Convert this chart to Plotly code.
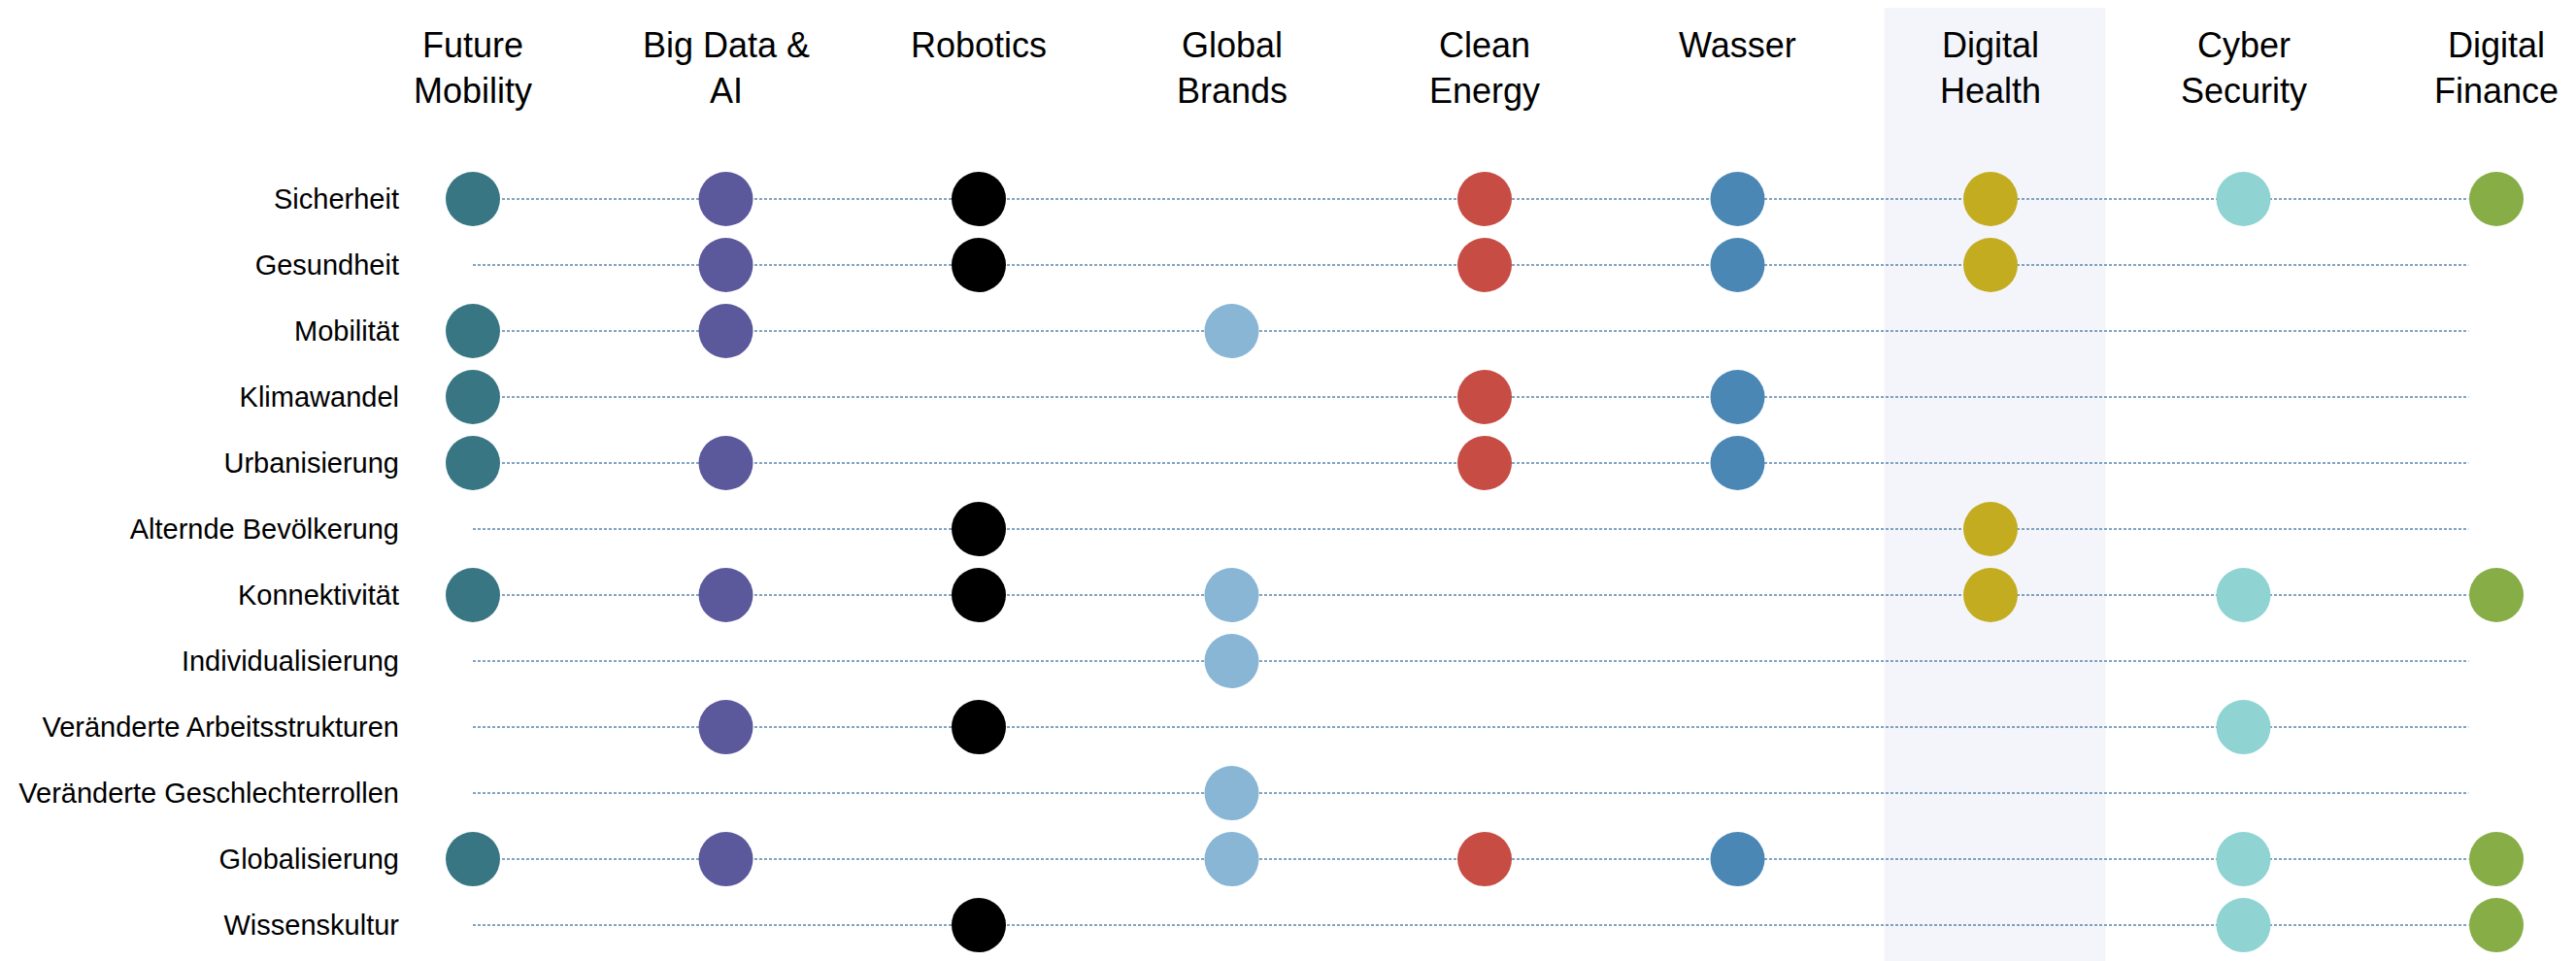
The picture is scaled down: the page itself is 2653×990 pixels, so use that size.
import plotly.graph_objects as go

themes = ["Future<br>Mobility", "Big Data &<br>AI", "Robotics", "Global<br>Brands", "Clean<br>Energy",
          "Wasser", "Digital<br>Health", "Cyber<br>Security", "Digital<br>Finance"]
theme_colors = ["#387683", "#5b589c", "#000000", "#89b6d5", "#c74d44",
                "#4a87b5", "#c4ac20", "#8fd3d3", "#86ad46"]
trends = ["Sicherheit", "Gesundheit", "Mobilität", "Klimawandel", "Urbanisierung",
          "Alternde Bevölkerung", "Konnektivität", "Individualisierung",
          "Veränderte Arbeitsstrukturen", "Veränderte Geschlechterrollen",
          "Globalisierung", "Wissenskultur"]

# which trends each theme is exposed to
future_mobility = ["Sicherheit", "Mobilität", "Klimawandel", "Urbanisierung", "Konnektivität", "Globalisierung"]
big_data_ai = ["Sicherheit", "Gesundheit", "Mobilität", "Urbanisierung", "Konnektivität",
               "Veränderte Arbeitsstrukturen", "Globalisierung"]
robotics = ["Sicherheit", "Gesundheit", "Alternde Bevölkerung", "Konnektivität",
            "Veränderte Arbeitsstrukturen", "Wissenskultur"]
global_brands = ["Mobilität", "Konnektivität", "Individualisierung", "Veränderte Geschlechterrollen", "Globalisierung"]
clean_energy = ["Sicherheit", "Gesundheit", "Klimawandel", "Urbanisierung", "Globalisierung"]
wasser = ["Sicherheit", "Gesundheit", "Klimawandel", "Urbanisierung", "Globalisierung"]
digital_health = ["Sicherheit", "Gesundheit", "Alternde Bevölkerung", "Konnektivität"]
cyber_security = ["Sicherheit", "Konnektivität", "Veränderte Arbeitsstrukturen", "Globalisierung", "Wissenskultur"]
digital_finance = ["Sicherheit", "Konnektivität", "Globalisierung", "Wissenskultur"]

membership = [future_mobility, big_data_ai, robotics, global_brands, clean_energy,
              wasser, digital_health, cyber_security, digital_finance]
highlight = "Digital<br>Health"

FONT = "Liberation Sans, Arial, Helvetica, sans-serif"
fig = go.Figure()

row_idx = {t: i for i, t in enumerate(trends)}
n = len(themes)
line_end = (n - 1) - 0.11
for t in trends:
    fig.add_trace(go.Scatter(x=[0, line_end], y=[row_idx[t], row_idx[t]], mode="lines",
                             line=dict(color="#5b86ad", width=1.6, dash="3px,2px"),
                             hoverinfo="skip", showlegend=False))

for ci, (name, col, mem) in enumerate(zip(themes, theme_colors, membership)):
    fig.add_trace(go.Scatter(x=[ci] * len(mem), y=[row_idx[m] for m in mem], mode="markers",
                             marker=dict(size=56, color=col, line=dict(width=0)),
                             name=name.replace("<br>", " "), showlegend=False))

hi = themes.index(highlight)
fig.add_shape(type="rect", xref="x", yref="paper", x0=hi - 0.42, x1=hi + 0.455, y0=0, y1=1,
              fillcolor="#f3f5fa", line=dict(width=0), layer="below")

for ci, name in enumerate(themes):
    fig.add_annotation(x=ci, y=-2.66, xref="x", yref="y", text=name, showarrow=False,
                       xanchor="center", yanchor="top",
                       font=dict(family=FONT, size=36, color="#000000"))

fig.update_layout(
    width=2645, height=982,
    margin=dict(l=414, r=4, t=0, b=0),
    plot_bgcolor="white", paper_bgcolor="white",
    xaxis=dict(range=[-0.2495, 8.2994], showgrid=False, zeroline=False, showticklabels=False,
               showline=False, ticks=""),
    yaxis=dict(range=[11.544, -2.897], showgrid=False, zeroline=False, showline=False,
               tickmode="array", tickvals=list(range(len(trends))), ticktext=trends,
               ticks="", ticklabelstandoff=10,
               tickfont=dict(family=FONT, size=29, color="#000000")),
)

fig.write_html("out.html")
